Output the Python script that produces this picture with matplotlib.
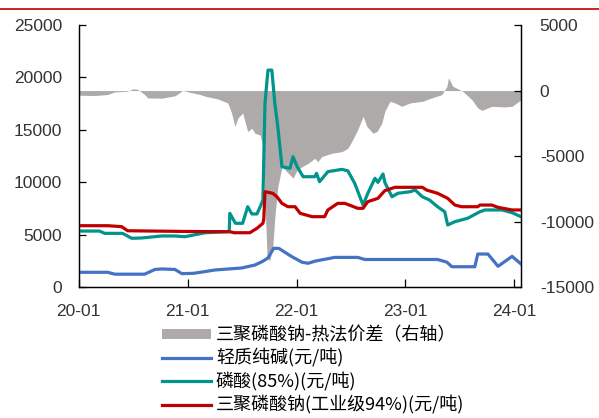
#!/usr/bin/env python3

"""Sodium tripolyphosphate vs raw materials: prices and thermal-process margin"""

import pandas as pd
import matplotlib
matplotlib.use("Agg")
import matplotlib.pyplot as plt
import matplotlib.dates as mdates
from matplotlib.lines import Line2D
from matplotlib.patches import Patch

# Light soda ash (yuan/t)
SODA_DATES = ["2020-01-01", "2020-04-07", "2020-05-01", "2020-08-09", "2020-09-13", "2020-10-06",
              "2020-11-19", "2020-12-12", "2021-01-20", "2021-02-28", "2021-04-02", "2021-07-01",
              "2021-08-14", "2021-09-07", "2021-09-27", "2021-10-16", "2021-11-03", "2021-12-16",
              "2022-01-20", "2022-02-09", "2022-03-05", "2022-05-09", "2022-07-25", "2022-08-18",
              "2023-01-27", "2023-04-19", "2023-05-20", "2023-06-06", "2023-08-22", "2023-09-01",
              "2023-10-05", "2023-11-08", "2023-12-25", "2024-01-24"]
SODA = [1430, 1430, 1250, 1250, 1700, 1750,
        1700, 1300, 1330, 1500, 1650, 1840,
        2120, 2440, 2790, 3720, 3700, 2920,
        2380, 2290, 2500, 2850, 2850, 2650,
        2650, 2650, 2400, 1960, 1960, 3170,
        3170, 2000, 2950, 2220]

# Phosphoric acid 85% (yuan/t)
ACID_DATES = ["2020-01-01", "2020-03-11", "2020-03-28", "2020-05-27", "2020-06-27", "2020-07-30",
              "2020-10-06", "2020-11-19", "2020-12-22", "2021-02-28", "2021-05-20", "2021-05-22",
              "2021-06-10", "2021-07-04", "2021-07-21", "2021-08-04", "2021-08-21", "2021-09-01",
              "2021-09-10", "2021-09-17", "2021-09-27", "2021-10-10", "2021-10-20", "2021-10-30",
              "2021-11-13", "2021-12-10", "2021-12-20", "2022-01-03", "2022-01-23", "2022-03-03",
              "2022-03-09", "2022-03-19", "2022-04-16", "2022-06-02", "2022-06-22", "2022-07-15",
              "2022-08-12", "2022-08-28", "2022-09-21", "2022-10-01", "2022-10-18", "2022-10-24",
              "2022-11-17", "2022-12-07", "2023-01-17", "2023-02-03", "2023-02-27", "2023-03-23",
              "2023-04-19", "2023-05-13", "2023-05-23", "2023-06-16", "2023-07-29", "2023-09-08",
              "2023-09-25", "2023-11-21", "2023-12-25", "2024-01-24"]
ACID = [5360, 5360, 5140, 5140, 4670, 4700,
        4890, 4890, 4820, 5200, 5300, 7050,
        6100, 6100, 7680, 6990, 6990, 7680,
        8320, 17530, 20700, 20700, 17530, 15300,
        11490, 11340, 12450, 11490, 10540, 10540,
        10860, 10060, 11020, 11240, 11100, 9910,
        7840, 8960, 10390, 10000, 10800, 10000,
        8630, 8960, 9110, 9270, 8630, 8320,
        7680, 7200, 5940, 6250, 6580, 7200,
        7370, 7370, 7110, 6730]

# Sodium tripolyphosphate, industrial 94% (yuan/t)
STPP_DATES = ["2020-01-01", "2020-04-07", "2020-05-24", "2020-06-13", "2021-01-02", "2021-05-22",
              "2021-06-05", "2021-07-28", "2021-08-21", "2021-09-10", "2021-09-13", "2021-09-17",
              "2021-10-13", "2021-10-27", "2021-11-13", "2021-12-03", "2021-12-27", "2022-01-13",
              "2022-02-22", "2022-04-05", "2022-04-16", "2022-05-19", "2022-06-12", "2022-07-25",
              "2022-08-12", "2022-08-28", "2022-10-01", "2022-10-24", "2022-11-27", "2023-02-27",
              "2023-03-13", "2023-04-19", "2023-05-23", "2023-06-16", "2023-07-09", "2023-09-01",
              "2023-09-08", "2023-10-18", "2023-11-08", "2023-12-25", "2024-01-24"]
STPP = [5870, 5870, 5780, 5390, 5320, 5300,
        5200, 5200, 5620, 6100, 6500, 9110,
        8960, 8630, 8000, 7680, 7680, 7050,
        6730, 6730, 7370, 8000, 8000, 7530,
        7530, 8160, 8480, 9210, 9530, 9530,
        9270, 8960, 8480, 7840, 7680, 7680,
        7840, 7840, 7620, 7370, 7370]

# Thermal-process spread (right axis)
SPREAD_DATES = ["2020-01-01", "2020-02-24", "2020-04-07", "2020-05-01", "2020-06-13", "2020-07-01",
                "2020-07-16", "2020-08-09", "2020-08-20", "2020-10-06", "2020-11-19", "2020-12-15",
                "2021-01-02", "2021-02-11", "2021-02-28", "2021-04-12", "2021-05-15", "2021-05-28",
                "2021-06-08", "2021-06-18", "2021-07-04", "2021-07-21", "2021-08-04", "2021-08-14",
                "2021-09-01", "2021-09-10", "2021-09-24", "2021-10-03", "2021-10-13", "2021-10-20",
                "2021-10-30", "2021-11-13", "2021-11-30", "2021-12-20", "2022-01-03", "2022-01-20",
                "2022-02-09", "2022-03-03", "2022-03-13", "2022-03-26", "2022-04-29", "2022-06-02",
                "2022-06-22", "2022-07-08", "2022-07-25", "2022-08-12", "2022-08-25", "2022-09-14",
                "2022-09-28", "2022-10-14", "2022-10-24", "2022-11-10", "2022-11-27", "2022-12-20",
                "2023-01-17", "2023-02-27", "2023-03-30", "2023-05-03", "2023-05-20", "2023-05-26",
                "2023-06-09", "2023-07-12", "2023-08-12", "2023-09-01", "2023-09-15", "2023-10-18",
                "2023-12-01", "2023-12-25", "2024-01-24"]
SPREAD = [-350, -380, -300, -100, -50, 130,
          100, -300, -560, -580, -400, 0,
          -100, -300, -430, -640, -940, -1710,
          -2740, -2100, -1710, -3120, -2870, -3250,
          -3400, -4270, -12710, -12960, -11940, -9640,
          -7340, -5810, -6200, -6670, -6060, -5800,
          -5550, -5160, -5420, -5040, -4780, -4660,
          -4400, -3760, -2990, -1970, -2740, -3250,
          -3120, -2480, -1590, -820, -940, -1200,
          -940, -820, -560, -310, 300, 970,
          330, -50, -690, -1330, -1510, -1200,
          -1250, -1200, -700]

LABELS = ["三聚磷酸钠-热法价差（右轴）", "轻质纯碱(元/吨)", "磷酸(85%)(元/吨)", "三聚磷酸钠(工业级94%)(元/吨)"]
YEAR_TICKS = ["2020-01-01", "2021-01-01", "2022-01-01", "2023-01-01", "2024-01-01"]

GRAY = "#AEAAAA"
BLUE = "#4472C4"
TEAL = "#00948C"
RED = "#C00000"


def main():
    plt.rcParams["font.family"] = ["Liberation Sans", "DejaVu Sans"]
    plt.rcParams["axes.unicode_minus"] = False

    fig = plt.figure(figsize=(5.99, 4.18), dpi=100)
    ax = fig.add_axes([0.1314, 0.3127, 0.7384, 0.6275])
    ax2 = ax.twinx()

    ax2.fill_between(pd.to_datetime(SPREAD_DATES), 0, SPREAD, color=GRAY, lw=0)
    ax.plot(pd.to_datetime(SODA_DATES), SODA, color=BLUE, lw=2.3)
    ax.plot(pd.to_datetime(ACID_DATES), ACID, color=TEAL, lw=2.3)
    ax.plot(pd.to_datetime(STPP_DATES), STPP, color=RED, lw=2.3)

    # lines on top of the area
    ax.set_zorder(ax2.get_zorder() + 1)
    ax.patch.set_visible(False)

    ax.set_xlim(pd.Timestamp("2020-01-01"), pd.Timestamp("2024-01-24"))
    ax.set_ylim(0, 25000)
    ax2.set_ylim(-15000, 5000)
    ax.set_yticks(range(0, 25001, 5000))
    ax2.set_yticks(range(-15000, 5001, 5000))
    ax.set_xticks(pd.to_datetime(YEAR_TICKS))
    ax.xaxis.set_major_formatter(mdates.DateFormatter("%y-%m"))

    for a in (ax, ax2):
        a.spines["top"].set_visible(False)
        for s in ("left", "right", "bottom"):
            a.spines[s].set_linewidth(0.9)
    ax.tick_params(axis="y", direction="in", length=5, width=0.9, pad=12, labelsize=12.5)
    ax.tick_params(axis="x", direction="in", length=6, width=0.9, pad=12, labelsize=12.5)
    ax2.tick_params(axis="y", direction="in", length=5, width=0.9, pad=13.5, labelsize=12.5)
    for lbl in ax.get_yticklabels() + ax.get_xticklabels() + ax2.get_yticklabels():
        lbl.set_color("#333333")

    handles = [Patch(facecolor=GRAY, edgecolor="none"),
               Line2D([], [], color=BLUE, lw=2.3),
               Line2D([], [], color=TEAL, lw=2.3),
               Line2D([], [], color=RED, lw=2.3)]
    fig.legend(handles, LABELS, loc="upper left", bbox_to_anchor=(0.2705, 0.219),
               frameon=False, borderpad=0, borderaxespad=0, handlelength=2.7,
               handleheight=0.5, handletextpad=0.28, labelspacing=0.24,
               prop={"family": ["Noto Sans CJK SC", "DejaVu Sans"], "size": 13})

    # red rule under the (cropped) title
    fig.add_artist(Line2D([0, 1], [1 - 9 / 418, 1 - 9 / 418], color=RED, lw=1.2,
                          transform=fig.transFigure))

    fig.savefig("out.png", dpi=100)


if __name__ == "__main__":
    main()
